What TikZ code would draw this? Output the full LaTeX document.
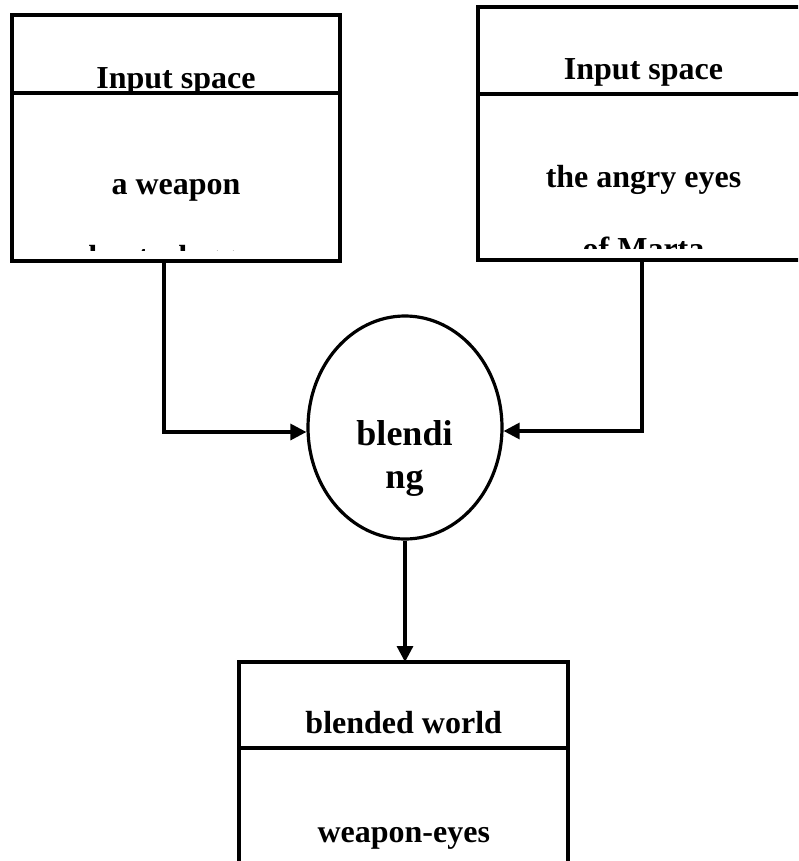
\documentclass[tikz,border=0pt]{standalone}
\usepackage{fontspec}
\setmainfont{Liberation Serif}
\usetikzlibrary{arrows.meta,shapes.geometric}
\begin{document}
\begin{tikzpicture}[x=1pt,y=-1pt,line width=3.5pt,
  frame/.style={draw,rectangle,inner sep=0pt,outer sep=0pt},
  label/.style={inner sep=0pt,anchor=base,font=\bfseries\fontsize{32}{38}\selectfont},
  biglabel/.style={inner sep=0pt,anchor=base,font=\bfseries\fontsize{36}{43}\selectfont},
  conn/.style={line width=3.2pt,-{Triangle[length=16pt,width=16pt]}}]
\useasboundingbox (0,0) rectangle (798,861);
\clip (0,0) rectangle (798,861);

% input space boxes and the blended world box
\node[frame,minimum width=328pt,minimum height=246pt] (lbox) at (176,138) {};
\node[frame,minimum width=331pt,minimum height=253pt] (rbox) at (643.5,133.5) {};
\node[frame,minimum width=329pt,minimum height=258pt] (bbox) at (403.5,791) {};

% header dividers
\draw (lbox.west |- 0,93) -- (lbox.east |- 0,93);
\draw (rbox.west |- 0,94) -- (rbox.east |- 0,94);
\draw (bbox.west |- 0,748) -- (bbox.east |- 0,748);

% blending ellipse
\node[draw,ellipse,line width=3.2pt,inner sep=0pt,minimum width=194pt,minimum height=223pt] (blend) at (405,427.5) {};

% texts
\node[label] (lhead) at (176,89) {Input space};
\node[label] (lbody) at (176,194) {a weapon};
\begin{scope}
  \clip (14,100) rectangle (338,250);
  \node[label] (lbody2) at (176,267) {shoots daggers};
\end{scope}

\node[label] (rhead) at (643.5,80) {Input space};
\node[label] (rbody) at (643.5,187) {the angry eyes};
\begin{scope}
  \clip (480,100) rectangle (798,248);
  \node[label] (rbody2) at (643.5,259) {of Marta};
\end{scope}

\node[biglabel] (bl1) at (404.5,445) {blendi};
\node[biglabel] (bl2) at (404.5,488) {ng};

\node[label] (bhead) at (403.7,733) {blended world};
\node[label] (bbody) at (403.8,842) {weapon-eyes};

% connectors
\draw[conn] ([xshift=-12pt]lbox.south) |- ([yshift=-4.5pt]blend.west);
\draw[conn] ([xshift=-1.5pt]rbox.south) |- ([yshift=-3.5pt]blend.east);
\draw[conn] (blend.south) -- (blend.south |- bbox.north);
\end{tikzpicture}
\end{document}
